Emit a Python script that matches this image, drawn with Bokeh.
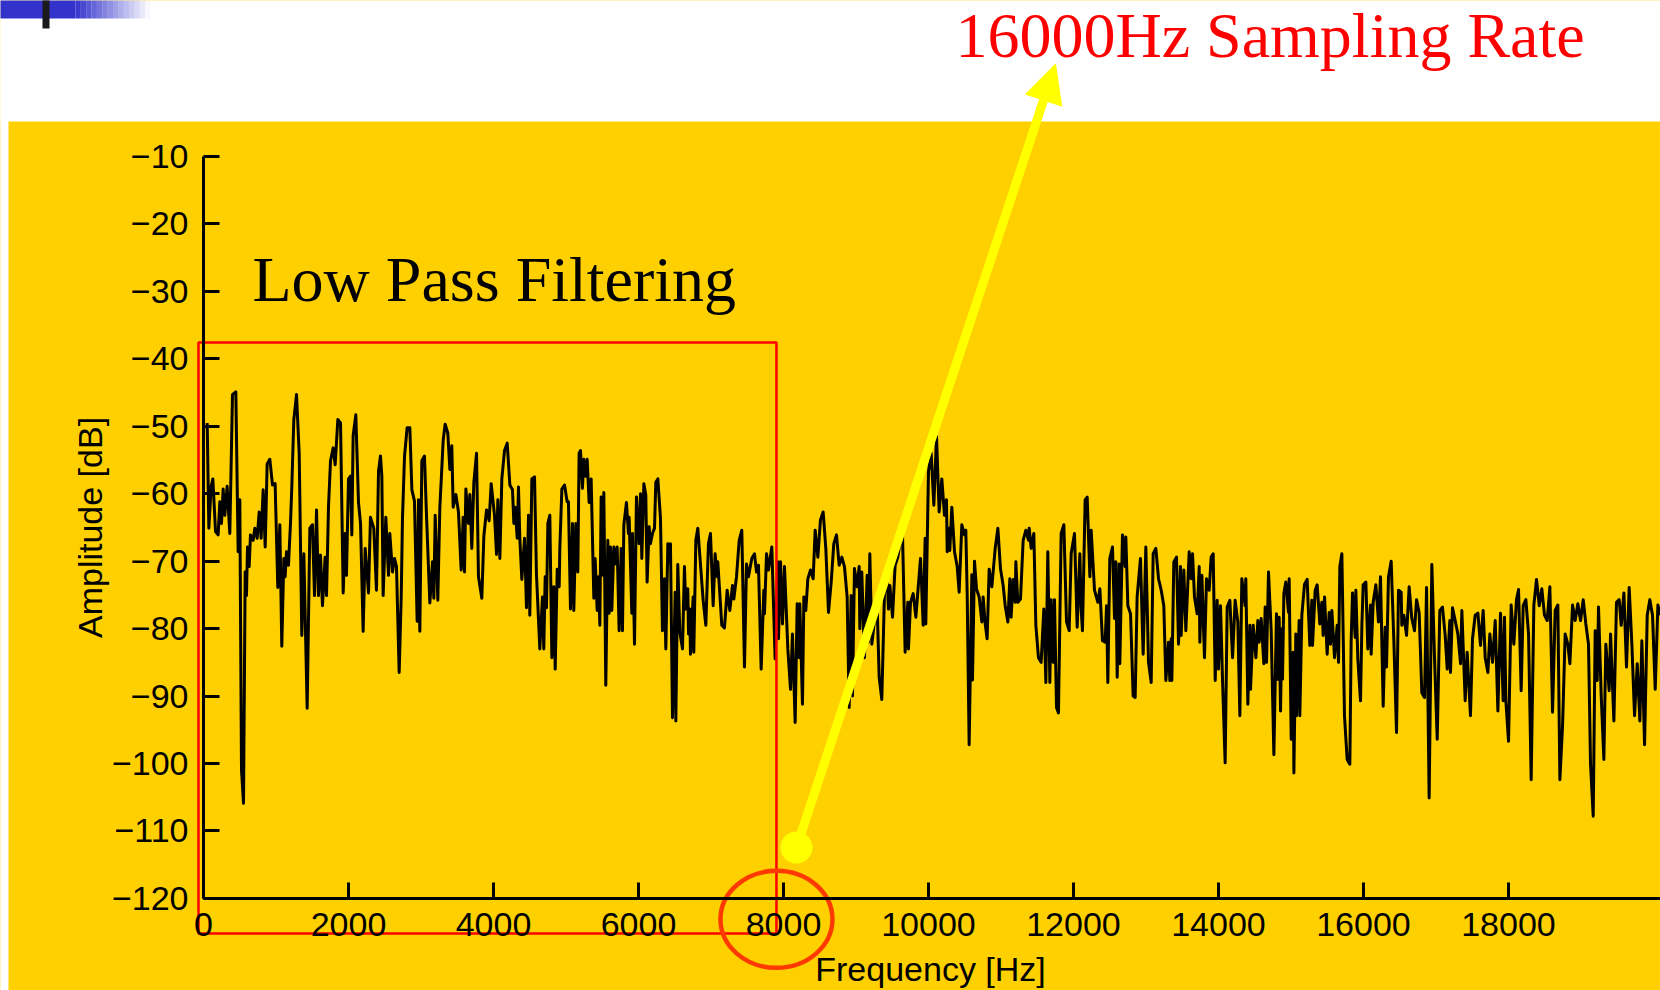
from math import pi
from bokeh.plotting import figure
from bokeh.models import Range1d, LinearAxis, FixedTicker, Label, Arrow, NormalHead
from bokeh.embed import file_html
from bokeh.resources import INLINE

# ---------------- data ----------------
freq_0_5k = [51, 74, 106, 129, 166, 202, 225, 248, 271, 294,
             326, 363, 400, 446, 478, 501, 524, 552, 575, 593,
             607, 630, 648, 685, 708, 740, 768, 795, 823, 851,
             878, 915, 952, 988, 1025, 1053, 1080, 1108, 1126, 1145,
             1172, 1200, 1218, 1246, 1283, 1320, 1356, 1384, 1430, 1467,
             1503, 1531, 1559, 1586, 1614, 1641, 1678, 1697, 1724, 1752,
             1789, 1816, 1853, 1890, 1927, 1954, 1972, 2000, 2028, 2046,
             2064, 2101, 2138, 2166, 2202, 2230, 2258, 2276, 2303, 2349,
             2386, 2414, 2441, 2460, 2478, 2515, 2552, 2570, 2607, 2635,
             2662, 2699, 2727, 2745, 2773, 2809, 2846, 2874, 2910, 2947,
             2966, 2984, 3012, 3048, 3076, 3122, 3159, 3177, 3196, 3232,
             3260, 3278, 3306, 3333, 3370, 3398, 3425, 3444, 3481, 3517,
             3554, 3582, 3600, 3619, 3655, 3674, 3701, 3729, 3766, 3793,
             3839, 3867, 3904, 3940, 3968, 4014, 4042, 4060, 4088, 4115,
             4152, 4189, 4226, 4262, 4281, 4299, 4327, 4345, 4363, 4391,
             4428, 4455, 4483, 4501, 4529, 4566, 4593, 4639, 4676, 4694,
             4713, 4731, 4750, 4777, 4805, 4832, 4851, 4879, 4906, 4915,
             4943, 4980, 5016]
amp_0_5k = [-49.5, -65.1, -58.9, -57.8, -65.6, -66.1, -61.2, -64.4, -59.3, -63.2,
            -58.9, -65.9, -45.3, -44.9, -68.6, -60.9, -100.9, -105.9, -71.6, -75.1,
            -67.9, -70.8, -66.1, -66.9, -65.1, -66.6, -62.7, -66.6, -59.4, -67.9,
            -55.6, -54.9, -58.7, -58.5, -73.9, -64.6, -82.6, -69.6, -72.3, -68.6,
            -70.6, -64.4, -59.0, -49.0, -45.3, -54.0, -81.0, -68.9, -91.8, -65.1,
            -64.6, -75.1, -62.4, -75.1, -69.1, -76.6, -69.4, -75.1, -62.0, -55.1,
            -53.2, -55.7, -49.0, -49.5, -74.7, -65.9, -72.1, -57.8, -57.4, -66.1,
            -51.4, -48.3, -61.3, -64.4, -80.4, -68.1, -72.1, -74.7, -63.5, -65.1,
            -74.3, -56.7, -54.4, -57.4, -75.1, -63.5, -72.1, -65.9, -71.6, -69.6,
            -70.8, -86.5, -75.3, -63.5, -54.4, -50.2, -50.2, -59.4, -61.1, -78.9,
            -60.9, -80.4, -55.1, -54.4, -63.2, -76.2, -70.1, -75.5, -63.2, -75.8,
            -62.0, -58.2, -52.1, -49.7, -51.0, -56.4, -52.9, -62.0, -60.1, -62.7,
            -71.3, -63.5, -71.6, -59.3, -64.4, -60.1, -68.1, -58.3, -54.0, -72.3,
            -75.5, -66.3, -62.4, -64.0, -58.5, -63.2, -69.0, -60.9, -69.6, -57.8,
            -53.6, -52.5, -58.7, -59.4, -64.4, -62.0, -66.6, -59.0, -66.6, -72.7,
            -66.6, -76.9, -63.2, -78.0, -57.8, -57.5, -72.0, -83.0, -75.3, -83.0,
            -72.3, -76.9, -64.4, -63.2, -84.3, -73.8, -86.0, -71.2, -73.8, -68.1,
            -59.3, -58.7, -61.2]

freq_5_10k = [5034, 5062, 5090, 5108, 5136, 5163, 5181, 5200, 5227, 5246,
              5273, 5292, 5319, 5347, 5384, 5402, 5430, 5448, 5467, 5485,
              5513, 5522, 5549, 5577, 5595, 5614, 5632, 5660, 5687, 5706,
              5733, 5761, 5779, 5798, 5834, 5862, 5871, 5908, 5917, 5945,
              5972, 6009, 6028, 6046, 6074, 6101, 6119, 6147, 6165, 6193,
              6221, 6239, 6267, 6303, 6331, 6359, 6377, 6405, 6432, 6441,
              6469, 6506, 6515, 6542, 6570, 6607, 6634, 6653, 6680, 6690,
              6708, 6717, 6754, 6763, 6791, 6818, 6892, 6929, 6965, 6993,
              7030, 7057, 7085, 7094, 7149, 7186, 7223, 7260, 7297, 7315,
              7352, 7389, 7425, 7462, 7490, 7517, 7563, 7600, 7628, 7655,
              7692, 7729, 7738, 7766, 7793, 7839, 7885, 7922, 7931, 7959,
              7986, 8014, 8060, 8097, 8124, 8161, 8189, 8216, 8225, 8262,
              8281, 8308, 8336, 8373, 8409, 8437, 8474, 8510, 8547, 8584,
              8621, 8658, 8694, 8731, 8768, 8805, 8841, 8878, 8906, 8933,
              8952, 8979, 9016, 9044, 9053, 9080, 9117, 9154, 9173, 9191,
              9219, 9255, 9292, 9320, 9356, 9393, 9430, 9448, 9467, 9504,
              9540, 9577, 9605, 9642, 9678, 9715, 9724, 9752, 9789, 9826,
              9853, 9890, 9927, 9954, 9963, 10000, 10037]
amp_5_10k = [-61.2, -77.1, -64.4, -77.3, -64.4, -71.6, -54.0, -53.6, -59.2, -54.9,
             -57.4, -54.9, -61.3, -57.8, -75.5, -69.6, -77.3, -72.3, -79.5, -60.5,
             -72.1, -59.8, -88.4, -66.9, -77.7, -67.9, -77.3, -67.9, -70.4, -67.9,
             -80.3, -68.1, -80.3, -64.6, -61.3, -65.9, -63.5, -77.7, -65.9, -82.3,
             -60.5, -67.4, -60.0, -69.6, -58.5, -60.2, -73.1, -64.9, -67.4, -65.9,
             -65.1, -58.3, -57.8, -63.6, -80.3, -72.6, -83.0, -67.4, -70.1, -67.4,
             -93.2, -74.6, -93.7, -70.5, -80.5, -83.0, -70.8, -77.1, -74.1, -80.8,
             -77.1, -83.8, -75.3, -83.5, -66.9, -65.1, -75.8, -79.5, -67.4, -65.9,
             -76.6, -68.9, -72.3, -70.1, -79.5, -79.9, -74.3, -77.3, -73.6, -75.6,
             -72.3, -66.9, -65.4, -85.7, -70.4, -72.3, -69.6, -68.9, -71.6, -70.6,
             -86.0, -74.3, -77.8, -68.9, -71.3, -67.9, -84.5, -70.1, -81.5, -70.1,
             -79.3, -70.8, -83.0, -89.0, -80.8, -93.9, -76.3, -84.3, -76.3, -91.2,
             -75.3, -77.3, -72.6, -71.3, -72.6, -65.4, -69.4, -63.9, -62.7, -68.1,
             -77.6, -73.1, -67.4, -66.1, -70.6, -69.4, -70.8, -75.3, -91.7, -75.1,
             -90.0, -71.1, -73.8, -70.8, -80.0, -71.6, -84.3, -72.1, -82.0, -68.9,
             -82.3, -78.8, -76.6, -87.2, -90.5, -74.8, -72.1, -77.1, -73.6, -78.3,
             -70.6, -69.4, -67.4, -66.1, -83.5, -76.1, -83.0, -76.1, -74.8, -78.3,
             -74.6, -69.6, -79.5, -66.6, -79.3, -56.7, -54.0]

freq_10_15k = [10074, 10111, 10147, 10184, 10221, 10248, 10258, 10285, 10294, 10322,
               10359, 10396, 10423, 10460, 10497, 10515, 10534, 10561, 10598, 10607,
               10635, 10662, 10699, 10736, 10754, 10782, 10809, 10837, 10874, 10920,
               10957, 10993, 11030, 11058, 11095, 11122, 11140, 11168, 11196, 11205,
               11232, 11269, 11306, 11343, 11380, 11389, 11416, 11453, 11481, 11517,
               11554, 11591, 11619, 11646, 11674, 11692, 11720, 11738, 11766, 11793,
               11830, 11867, 11904, 11941, 11968, 12014, 12051, 12088, 12106, 12124,
               12161, 12189, 12226, 12244, 12290, 12336, 12364, 12400, 12437, 12456,
               12474, 12501, 12538, 12566, 12584, 12603, 12630, 12639, 12676, 12713,
               12722, 12750, 12787, 12823, 12851, 12878, 12924, 12961, 12998, 13035,
               13072, 13099, 13136, 13173, 13210, 13246, 13274, 13311, 13329, 13348,
               13357, 13384, 13421, 13449, 13476, 13485, 13522, 13550, 13596, 13623,
               13642, 13669, 13706, 13734, 13743, 13771, 13807, 13835, 13872, 13899,
               13927, 13955, 13982, 14000, 14028, 14056, 14092, 14120, 14157, 14194,
               14230, 14267, 14295, 14322, 14368, 14377, 14405, 14433, 14442, 14479,
               14516, 14543, 14561, 14589, 14626, 14644, 14663, 14690, 14727, 14764,
               14800, 14819, 14837, 14856, 14874, 14883, 14902, 14929, 14966, 14975,
               15003, 15030, 15040, 15067]
amp_10_15k = [-61.7, -51.5, -62.7, -57.8, -63.2, -60.9, -68.6, -65.1, -68.4, -62.0,
              -68.6, -70.8, -74.6, -64.6, -66.1, -65.4, -75.0, -97.2, -72.0, -87.6,
              -70.0, -74.1, -75.3, -79.0, -75.3, -79.3, -81.5, -71.2, -73.8, -68.1,
              -65.1, -71.1, -73.6, -76.6, -79.0, -72.6, -78.3, -72.7, -76.1, -70.1,
              -76.1, -75.6, -66.9, -65.4, -66.9, -65.1, -68.1, -65.9, -79.5, -84.3,
              -85.0, -77.1, -88.0, -68.6, -88.0, -75.7, -85.0, -75.7, -91.7, -92.5,
              -65.9, -64.6, -79.0, -80.3, -68.9, -65.9, -79.8, -68.9, -77.1, -80.3,
              -60.9, -60.5, -72.3, -65.4, -74.3, -76.1, -74.1, -81.8, -82.0, -76.6,
              -88.0, -69.6, -67.9, -78.5, -70.1, -87.2, -70.4, -85.2, -66.1, -70.8,
              -66.4, -76.6, -77.8, -90.0, -90.2, -75.3, -69.6, -83.8, -67.9, -85.0,
              -88.0, -68.9, -68.1, -72.6, -74.3, -76.6, -87.7, -82.0, -87.7, -81.5,
              -87.7, -70.1, -69.4, -82.3, -70.8, -81.0, -71.3, -80.3, -68.6, -72.6,
              -68.9, -75.3, -77.8, -70.8, -82.0, -72.1, -84.3, -72.6, -74.3, -69.4,
              -68.9, -87.7, -75.8, -86.0, -76.6, -87.7, -99.9, -76.8, -75.8, -84.3,
              -75.8, -79.0, -92.9, -72.6, -76.6, -72.6, -91.2, -79.5, -89.0, -79.5,
              -84.3, -78.8, -82.0, -78.5, -85.2, -76.8, -85.0, -71.6, -80.3, -98.7,
              -77.8, -87.5, -78.3, -92.2, -80.0, -87.5, -74.8, -73.1, -77.6, -72.6,
              -96.4, -83.5, -101.4, -80.8]

freq_15_20k = [15076, 15113, 15122, 15150, 15187, 15223, 15260, 15288, 15297, 15334,
               15361, 15398, 15426, 15444, 15463, 15499, 15527, 15545, 15564, 15601,
               15637, 15656, 15674, 15702, 15738, 15775, 15812, 15830, 15849, 15886,
               15895, 15922, 15959, 15978, 15996, 16033, 16060, 16097, 16106, 16134,
               16171, 16207, 16235, 16272, 16299, 16318, 16345, 16382, 16419, 16456,
               16483, 16520, 16529, 16557, 16594, 16630, 16667, 16704, 16732, 16768,
               16805, 16842, 16870, 16906, 16943, 16980, 17017, 17053, 17090, 17127,
               17155, 17191, 17200, 17228, 17265, 17302, 17339, 17357, 17403, 17430,
               17476, 17504, 17541, 17578, 17614, 17651, 17679, 17716, 17743, 17780,
               17817, 17854, 17890, 17927, 17945, 17964, 18001, 18037, 18074, 18111,
               18139, 18175, 18203, 18240, 18277, 18313, 18350, 18387, 18424, 18460,
               18497, 18534, 18571, 18608, 18644, 18681, 18709, 18746, 18782, 18819,
               18847, 18884, 18920, 18957, 18994, 19031, 19067, 19104, 19132, 19169,
               19196, 19224, 19242, 19279, 19316, 19343, 19389, 19408, 19454, 19490,
               19527, 19555, 19592, 19628, 19665, 19702, 19739, 19776, 19812, 19840,
               19877, 19914, 19950, 19987, 20024, 20061, 20098]
amp_15_20k = [-92.9, -78.8, -92.9, -78.0, -73.4, -72.7, -82.5, -75.8, -82.5, -74.3,
              -73.5, -79.3, -76.1, -81.0, -75.3, -83.8, -77.6, -82.3, -77.3, -84.3,
              -79.5, -85.0, -70.8, -68.9, -92.9, -99.4, -100.1, -81.8, -74.7, -81.3,
              -74.3, -84.5, -90.7, -79.5, -73.5, -73.1, -83.0, -76.5, -83.8, -76.1,
              -73.5, -79.0, -72.3, -91.5, -79.8, -85.7, -72.3, -70.0, -81.8, -95.4,
              -74.3, -74.6, -79.5, -78.0, -81.0, -73.8, -78.5, -80.3, -75.7, -77.6,
              -89.5, -90.2, -73.9, -105.1, -70.5, -84.3, -96.4, -77.3, -76.8, -81.0,
              -86.0, -78.8, -86.5, -76.9, -78.8, -80.8, -85.2, -77.3, -90.7, -83.5,
              -92.9, -81.5, -78.0, -77.7, -82.5, -77.3, -84.3, -86.5, -80.8, -85.0,
              -78.8, -92.2, -77.7, -90.7, -78.3, -90.7, -96.7, -76.5, -82.3, -75.7,
              -74.2, -89.2, -76.6, -75.7, -80.8, -102.4, -76.5, -72.7, -76.6, -74.1,
              -78.0, -78.8, -73.8, -92.4, -77.3, -76.5, -102.4, -94.4, -80.8, -82.3,
              -85.2, -76.5, -78.8, -76.3, -78.8, -75.7, -79.3, -82.3, -100.1, -107.8,
              -80.3, -87.7, -76.8, -89.9, -99.4, -82.3, -89.2, -80.8, -93.7, -76.1,
              -75.7, -79.5, -74.7, -85.7, -73.9, -82.3, -92.9, -85.2, -93.7, -81.8,
              -97.2, -78.0, -75.7, -78.0, -89.0, -76.5, -78.0]

x_ticks = [0, 2000, 4000, 6000, 8000, 10000, 12000, 14000, 16000, 18000]
x_tick_labels = ["0", "2000", "4000", "6000", "8000", "10000", "12000", "14000", "16000", "18000"]
y_ticks = [-10, -20, -30, -40, -50, -60, -70, -80, -90, -100, -110, -120]
y_tick_labels = ["\u221210", "\u221220", "\u221230", "\u221240", "\u221250", "\u221260",
                 "\u221270", "\u221280", "\u221290", "\u2212100", "\u2212110", "\u2212120"]

title_text = "16000Hz Sampling Rate"
box_text = "Low Pass Filtering"
x_title = "Frequency [Hz]"
y_title = "Amplitude [dB]"

# ---------------- layout / style ----------------
X_START, X_END = -2800, 20097
Y_START, Y_END = -133.65, 13.13
YELLOW = "#FFD000"

freq_hz = freq_0_5k + freq_5_10k + freq_10_15k + freq_15_20k
amp_db = amp_0_5k + amp_5_10k + amp_10_15k + amp_15_20k

p = figure(width=1660, height=990, output_backend="svg", toolbar_location=None,
           x_range=Range1d(X_START, X_END), y_range=Range1d(Y_START, Y_END),
           x_axis_type=None, y_axis_type=None, min_border=0,
           background_fill_color=YELLOW, border_fill_color="white",
           outline_line_color=None)

# white header band above the yellow panel and thin white left margin
p.quad(left=[X_START - 500], right=[X_END + 500], top=[Y_END + 5], bottom=[-4.81],
       fill_color="white", line_color=None)
p.quad(left=[X_START - 500], right=[-2690], top=[Y_END + 5], bottom=[Y_START - 5],
       fill_color="white", line_color=None)

# slide decoration: blue bar with fade and small dark bar
p.quad(left=[X_START - 500], right=[-1766], top=[Y_END + 5], bottom=[10.46],
       fill_color="#3333CC", line_color=None)
n_fade = 14
fade_l, fade_r = -1766, -731
step = (fade_r - fade_l) / n_fade
p.quad(left=[fade_l + i * step for i in range(n_fade)],
       right=[fade_l + (i + 1) * step for i in range(n_fade)],
       top=[Y_END + 5] * n_fade, bottom=[10.46] * n_fade,
       fill_color="#3333CC", fill_alpha=[1 - (i + 0.5) / n_fade for i in range(n_fade)],
       line_color=None)
p.quad(left=[-2221], right=[-2124], top=[Y_END + 5], bottom=[8.98],
       fill_color="#1A1A1A", line_color=None)

# spectrum
p.line(freq_hz, amp_db, line_color="black", line_width=3, line_join="round")

# red low-pass box
p.quad(left=[-69], right=[7903], top=[-37.58], bottom=[-125.2],
       fill_color=None, line_color="#FF0000", line_width=2.5)

# circle around 8000
p.ellipse(x=[7903], y=[-123.1], width=1545, height=14.4,
          fill_color=None, line_color="#FF3A00", line_width=4.5)

# yellow pointer
p.scatter(x=[8179], y=[-112.45], size=32, marker="circle",
          fill_color="#FFFF00", line_color=None)
p.add_layout(Arrow(end=NormalHead(size=38, fill_color="#FFFF00", line_color="#FFFF00"),
                   x_start=8179, y_start=-112.45, x_end=11752, y_end=3.71,
                   line_color="#FFFF00", line_width=9))

# axes
xaxis = LinearAxis(ticker=FixedTicker(ticks=x_ticks), fixed_location=-120,
                   bounds=(0, X_END))
yaxis = LinearAxis(ticker=FixedTicker(ticks=y_ticks), fixed_location=0,
                   bounds=(-120, -10))
xaxis.major_label_overrides = dict(zip(x_ticks, x_tick_labels))
yaxis.major_label_overrides = dict(zip(y_ticks, y_tick_labels))
for ax in (xaxis, yaxis):
    ax.axis_line_color = "black"
    ax.axis_line_width = 3
    ax.major_tick_line_color = "black"
    ax.major_tick_line_width = 3
    ax.major_tick_in = 16
    ax.major_tick_out = 0
    ax.minor_tick_in = 0
    ax.minor_tick_out = 0
    ax.major_label_text_font = "Liberation Sans"
    ax.major_label_text_font_size = "34px"
    ax.major_label_text_color = "black"
xaxis.major_label_standoff = 15
yaxis.major_label_standoff = 15
p.add_layout(xaxis, "below")
p.add_layout(yaxis, "left")

# texts
p.add_layout(Label(x=10372, y=7.94, text=title_text, text_font="Liberation Serif",
                   text_font_size="64px", text_color="#FF0000",
                   text_align="left", text_baseline="alphabetic"))
p.add_layout(Label(x=676, y=-28.24, text=box_text, text_font="Liberation Serif",
                   text_font_size="64px", text_color="black",
                   text_align="left", text_baseline="alphabetic"))
p.add_layout(Label(x=10028, y=-130.39, text=x_title, text_font="Liberation Sans",
                   text_font_size="34px", text_color="black",
                   text_align="center", text_baseline="alphabetic"))
p.add_layout(Label(x=-1572, y=-65.0, text=y_title, text_font="Liberation Sans",
                   text_font_size="34px", text_color="black", angle=pi / 2,
                   text_align="center", text_baseline="middle"))

open("out.html", "w").write(file_html(p, INLINE))
